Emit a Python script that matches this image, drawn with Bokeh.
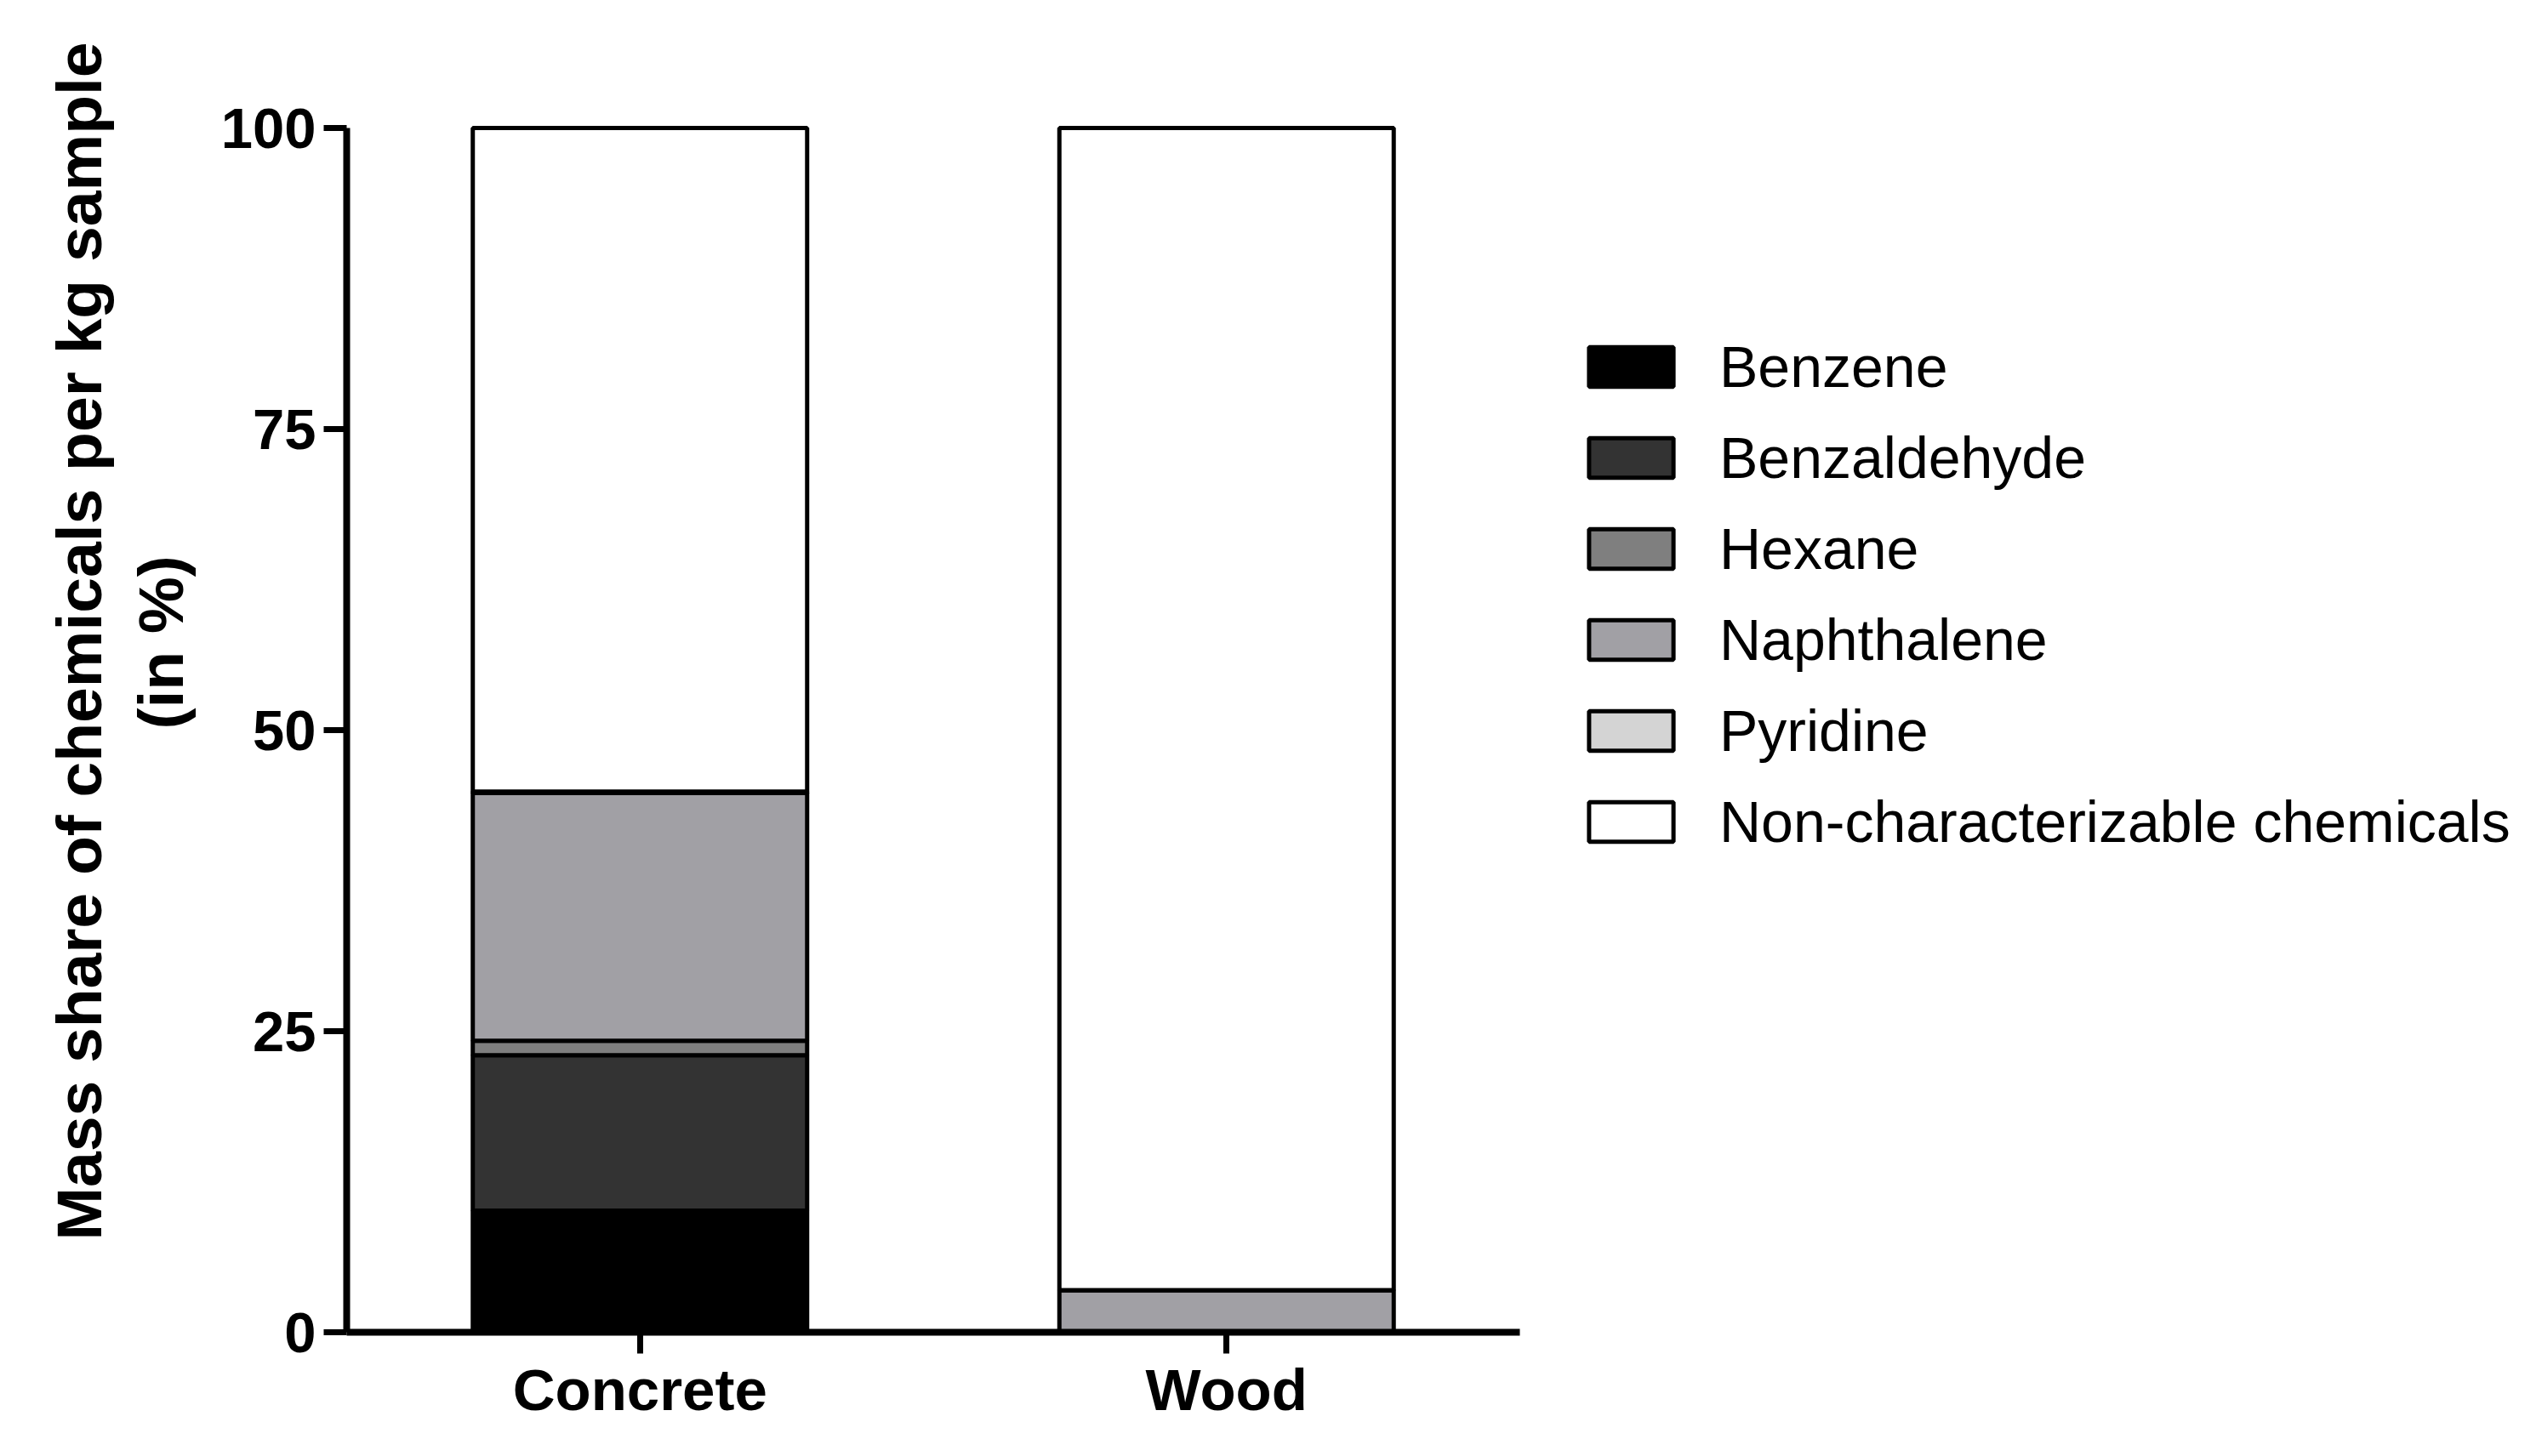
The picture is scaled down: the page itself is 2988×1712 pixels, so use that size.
from bokeh.plotting import figure
from bokeh.models import ColumnDataSource, FactorRange, Range1d, Legend, FixedTicker, Title
from bokeh.embed import file_html
from bokeh.resources import INLINE

categories = ["Concrete", "Wood"]
chemicals = ["Benzene", "Benzaldehyde", "Hexane", "Naphthalene", "Pyridine",
             "Non-characterizable chemicals"]
benzene = [10.1, 0.0]
benzaldehyde = [12.9, 0.0]
hexane = [1.2, 0.0]
naphthalene = [20.6, 3.5]
pyridine = [0.1, 0.0]
non_char = [55.1, 96.5]
colors = ["#000000", "#333333", "#7f7f7f", "#a1a0a5", "#d4d4d4", "#ffffff"]
y_ticks = [0, 25, 50, 75, 100]
y_title_1 = "Mass share of chemicals per kg sample"
y_title_2 = "(in %)"

source = ColumnDataSource(dict(cat=categories, **{
    "Benzene": benzene, "Benzaldehyde": benzaldehyde, "Hexane": hexane,
    "Naphthalene": naphthalene, "Pyridine": pyridine,
    "Non-characterizable chemicals": non_char}))

FONT = "Liberation Sans"

p = figure(x_range=FactorRange(*categories, range_padding=0),
           y_range=Range1d(0, 100.5),
           frame_width=1379, frame_height=1423,
           min_border_left=407, min_border_top=143, min_border_bottom=124,
           min_border_right=20,
           output_backend="svg", toolbar_location=None)

renderers = p.vbar_stack(chemicals, x="cat", width=0.57, source=source,
                         fill_color=colors, line_color="black", line_width=5)

legend = Legend(items=[(name, [r]) for name, r in zip(chemicals, renderers)],
                location=(69, 561))
legend.border_line_color = None
legend.background_fill_alpha = 0
legend.glyph_width = 124
legend.glyph_height = 58
legend.label_standoff = 42
legend.label_text_font = FONT
legend.label_text_font_size = "68px"
legend.label_text_color = "black"
legend.label_height = 46
legend.spacing = 29
legend.padding = 0
legend.margin = 0
p.add_layout(legend, "right")

p.xgrid.grid_line_color = None
p.ygrid.grid_line_color = None
p.outline_line_color = None

for ax in (p.xaxis[0], p.yaxis[0]):
    ax.axis_line_width = 8
    ax.axis_line_color = "black"
    ax.major_tick_line_width = 7
    ax.major_tick_line_color = "black"
    ax.major_tick_in = 0
    ax.minor_tick_line_color = None
    ax.major_label_text_font = FONT
    ax.major_label_text_font_style = "bold"
    ax.major_label_text_color = "black"

p.xaxis.major_tick_out = 25
p.xaxis.major_label_text_font_size = "69px"
p.xaxis.major_label_standoff = 4

p.yaxis.ticker = FixedTicker(ticks=y_ticks)
p.yaxis.bounds = (0, 100)
p.yaxis.major_tick_out = 27
p.yaxis.major_label_text_font_size = "67px"
p.yaxis.major_label_standoff = 9
p.yaxis.axis_label = " "
p.yaxis.axis_label_text_font_size = "1px"
p.yaxis.axis_label_standoff = 17

for txt, off in ((y_title_2, 709), (y_title_1, 108)):
    t = Title(text=txt, align="left", offset=off, standoff=10,
              text_font=FONT, text_font_style="bold", text_font_size="75px",
              text_color="black")
    p.add_layout(t, "left")

open("out.html", "w").write(file_html(p, INLINE))
